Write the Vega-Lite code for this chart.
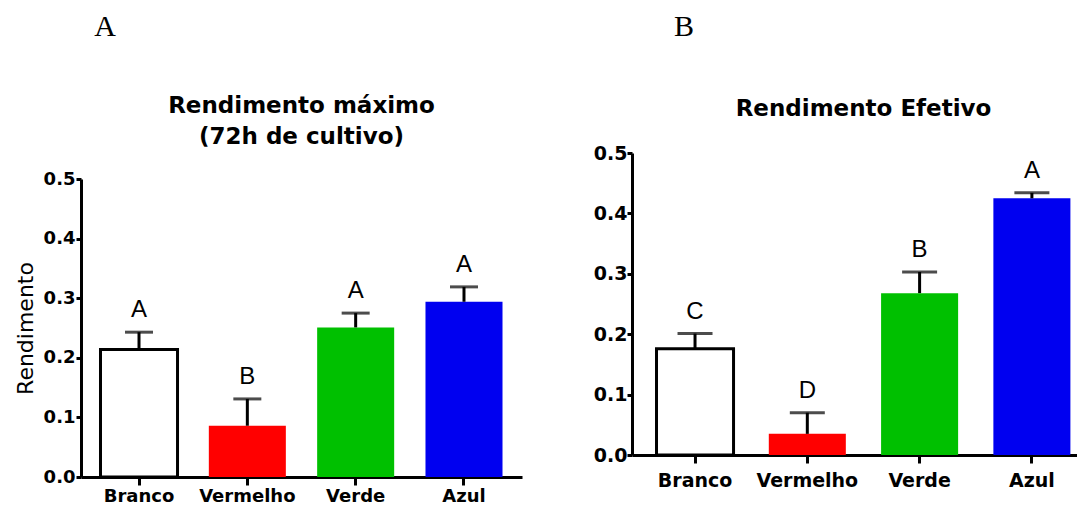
{
  "$schema": "https://vega.github.io/schema/vega-lite/v6.json",
  "background": "white",
  "padding": {"left": 14, "top": 12, "right": 0, "bottom": 0},
  "datasets": {
    "max": [
      {"cond": "Branco", "val": 0.214, "err": 0.243, "lab": "A"},
      {"cond": "Vermelho", "val": 0.086, "err": 0.131, "lab": "B"},
      {"cond": "Verde", "val": 0.251, "err": 0.275, "lab": "A"},
      {"cond": "Azul", "val": 0.294, "err": 0.319, "lab": "A"}
    ],
    "efe": [
      {"cond": "Branco", "val": 0.176, "err": 0.201, "lab": "C"},
      {"cond": "Vermelho", "val": 0.035, "err": 0.070, "lab": "D"},
      {"cond": "Verde", "val": 0.268, "err": 0.303, "lab": "B"},
      {"cond": "Azul", "val": 0.425, "err": 0.434, "lab": "A"}
    ],
    "panelA": [{"p": "A"}],
    "panelB": [{"p": "B"}]
  },
  "config": {
    "view": {"stroke": null},
    "axis": {"grid": false, "domainColor": "black", "domainWidth": 3, "tickColor": "black", "tickWidth": 3, "labelColor": "black", "labelFont": "DejaVu Sans", "labelFontWeight": "bold"}
  },
  "spacing": 71,
  "hconcat": [
    {
      "spacing": 53,
      "vconcat": [
        {
          "width": 48,
          "height": 30,
          "data": {"name": "panelA"},
          "mark": {"type": "text", "font": "Liberation Serif", "fontSize": 30, "align": "center", "baseline": "middle", "color": "black"},
          "encoding": {"text": {"field": "p"}}
        },
        {
          "width": 441,
          "height": 298,
          "data": {"name": "max"},
          "title": {"text": ["Rendimento máximo", "(72h de cultivo)"], "font": "DejaVu Sans", "fontSize": 23, "fontWeight": "bold", "lineHeight": 31, "offset": 21, "color": "black"},
          "encoding": {
            "x": {"field": "cond", "type": "nominal", "sort": ["Branco", "Vermelho", "Verde", "Azul"], "scale": {"paddingInner": 0.289, "paddingOuter": 0.18}, "axis": {"title": null, "labelAngle": 0, "tickSize": 8, "labelPadding": 2, "labelFontSize": 18}}
          },
          "layer": [
            {
              "mark": {"type": "bar", "strokeWidth": 3},
              "encoding": {
                "y": {"field": "val", "type": "quantitative", "scale": {"domain": [0, 0.5], "nice": false}, "axis": {"values": [0, 0.1, 0.2, 0.3, 0.4, 0.5], "format": ".1f", "tickSize": 5, "labelPadding": 1, "labelFontSize": 18, "title": "Rendimento", "titleFont": "DejaVu Sans", "titleFontSize": 22, "titleFontWeight": "normal", "titlePadding": 6, "titleColor": "black"}},
                "fill": {"field": "cond", "type": "nominal", "scale": {"domain": ["Branco", "Vermelho", "Verde", "Azul"], "range": ["white", "#ff0000", "#00c000", "#0000f0"]}, "legend": null},
                "stroke": {"condition": {"test": "datum.cond === 'Branco'", "value": "black"}, "value": "transparent"}
              }
            },
            {
              "mark": {"type": "rule", "strokeWidth": 3, "color": "black"},
              "encoding": {"y": {"field": "val", "type": "quantitative"}, "y2": {"field": "err"}}
            },
            {
              "mark": {"type": "tick", "size": 28, "thickness": 3, "color": "black"},
              "encoding": {"y": {"field": "err", "type": "quantitative"}}
            },
            {
              "mark": {"type": "text", "font": "Liberation Sans", "fontSize": 24, "baseline": "alphabetic", "dy": -15, "color": "black"},
              "encoding": {"y": {"field": "err", "type": "quantitative"}, "text": {"field": "lab"}}
            }
          ]
        }
      ]
    },
    {
      "spacing": 56,
      "vconcat": [
        {
          "width": 104,
          "height": 30,
          "data": {"name": "panelB"},
          "mark": {"type": "text", "font": "Liberation Serif", "fontSize": 30, "align": "center", "baseline": "middle", "color": "black"},
          "encoding": {"text": {"field": "p"}}
        },
        {
          "width": 445,
          "height": 302,
          "data": {"name": "efe"},
          "title": {"text": "Rendimento Efetivo", "font": "DejaVu Sans", "fontSize": 23, "fontWeight": "bold", "offset": 23, "dx": 9, "color": "black"},
          "encoding": {
            "x": {"field": "cond", "type": "nominal", "sort": ["Branco", "Vermelho", "Verde", "Azul"], "scale": {"paddingInner": 0.314, "paddingOuter": 0.1385, "align": 0.788}, "axis": {"title": null, "labelAngle": 0, "tickSize": 8, "labelPadding": 8, "labelFontSize": 19}}
          },
          "layer": [
            {
              "mark": {"type": "bar", "strokeWidth": 3},
              "encoding": {
                "y": {"field": "val", "type": "quantitative", "scale": {"domain": [0, 0.5], "nice": false}, "axis": {"values": [0, 0.1, 0.2, 0.3, 0.4, 0.5], "format": ".1f", "tickSize": 5, "labelPadding": 0, "labelFontSize": 19, "title": null}},
                "fill": {"field": "cond", "type": "nominal", "scale": {"domain": ["Branco", "Vermelho", "Verde", "Azul"], "range": ["white", "#ff0000", "#00c000", "#0000f0"]}, "legend": null},
                "stroke": {"condition": {"test": "datum.cond === 'Branco'", "value": "black"}, "value": "transparent"}
              }
            },
            {
              "mark": {"type": "rule", "strokeWidth": 3, "color": "black"},
              "encoding": {"y": {"field": "val", "type": "quantitative"}, "y2": {"field": "err"}}
            },
            {
              "mark": {"type": "tick", "size": 35, "thickness": 3, "color": "black"},
              "encoding": {"y": {"field": "err", "type": "quantitative"}}
            },
            {
              "mark": {"type": "text", "font": "Liberation Sans", "fontSize": 24, "baseline": "alphabetic", "dy": -15, "color": "black"},
              "encoding": {"y": {"field": "err", "type": "quantitative"}, "text": {"field": "lab"}}
            }
          ]
        }
      ]
    }
  ]
}
